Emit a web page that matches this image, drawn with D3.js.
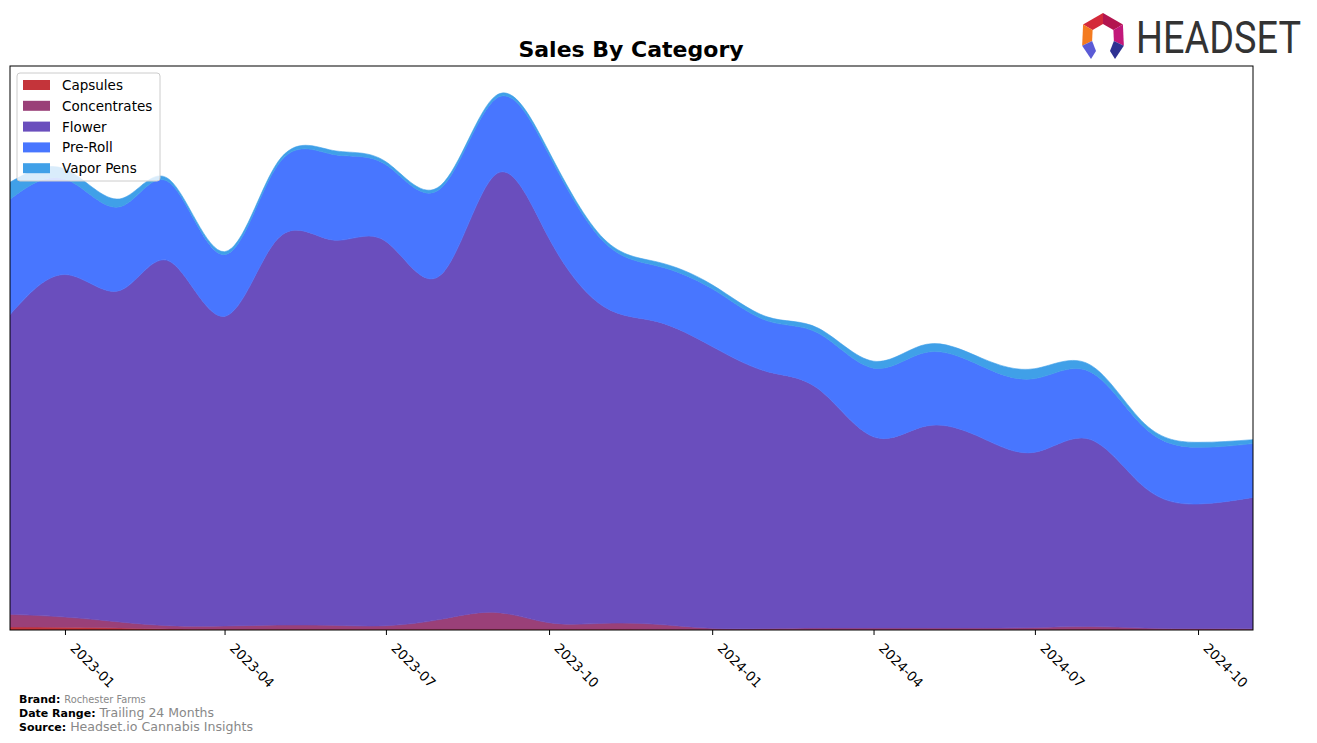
<!DOCTYPE html>
<html>
<head>
<meta charset="utf-8">
<script src="https://cdn.jsdelivr.net/npm/d3@7"></script>
<style>
  html, body { margin: 0; padding: 0; background: #fff; }
  svg { display: block; font-family: "DejaVu Sans", sans-serif; }
</style>
</head>
<body>
<svg id="chart" width="1317" height="743"></svg>
<script>
// ---- Data (monthly; arbitrary sales units) ----
const months = ["2022-12","2023-01","2023-02","2023-03","2023-04","2023-05","2023-06","2023-07",
  "2023-08","2023-09","2023-10","2023-11","2023-12","2024-01","2024-02","2024-03","2024-04",
  "2024-05","2024-06","2024-07","2024-08","2024-09","2024-10","2024-11"];
const categories = ["Capsules","Concentrates","Flower","Pre-Roll","Vapor Pens"];
const capsules = [3.0,2.7,2.0,1.0,0.8,0.8,0.8,0.8,0.8,0.8,0.8,0.8,0.6,0.5,0.5,0.5,0.5,0.5,0.5,0.5,0.5,0.5,0.4,0.4];
const concentrates = [12.7,10.3,6.0,3.3,3.2,4.2,3.9,3.5,9.9,16.9,6.5,5.9,5.1,1.2,1.0,1.5,1.5,1.5,1.5,2.0,3.0,1.5,1.1,0.8];
const flower = [301,344,333,366,311,388,387,386,346,440,386,318,304,283,258,240,192,203,191,176,188,141,125,132];
const preRoll = [116,96,84,79,62,74,86,77,87,76,84,65,56,58,51,56,69,74,72,74,68,60,57,54];
const vaporPens = [17,10,8,3,3,3,4,3,3,3,3,3,4,4,4,5,7,8,8,10,7,4,5,4];
const tickLabels = ["2023-01","2023-04","2023-07","2023-10","2024-01","2024-04","2024-07","2024-10"];
const colors = ["#c4343a","#9a4078","#6a4ebd","#4876ff","#40a0e8"];

const seriesValues = [capsules, concentrates, flower, preRoll, vaporPens];
const parse = d3.timeParse("%Y-%m");
const rows = months.map((m, i) => {
  const r = { date: parse(m) };
  categories.forEach((c, k) => r[c] = seriesValues[k][i]);
  return r;
});

const svg = d3.select("#chart");
const pLeft = 10, pRight = 1253, pTop = 66, pBottom = 630;

const stack = d3.stack().keys(categories);
const layers = stack(rows);
const maxTotal = d3.max(layers[layers.length - 1], d => d[1]);

const x = d3.scaleTime().domain([rows[0].date, rows[rows.length - 1].date]).range([pLeft, pRight]);
const y = d3.scaleLinear().domain([0, maxTotal]).range([pBottom, pTop]);

// measure the peak of the smoothed top curve so the y-limit is 5% above it
const probe = svg.append("path")
  .attr("d", d3.line().curve(d3.curveNatural).x(d => x(d.data.date)).y(d => y(d[1]))(layers[layers.length - 1]))
  .attr("fill", "none").attr("stroke", "none");
const peak = y.invert(probe.node().getBBox().y);
probe.remove();
y.domain([0, peak * 1.05]);

const clip = svg.append("defs").append("clipPath").attr("id", "plotclip");
clip.append("rect").attr("x", pLeft).attr("y", pTop).attr("width", pRight - pLeft).attr("height", pBottom - pTop);

const area = d3.area()
  .curve(d3.curveNatural)
  .x(d => x(d.data.date))
  .y0(d => y(d[0]))
  .y1(d => y(d[1]));

svg.append("g").attr("clip-path", "url(#plotclip)")
  .selectAll("path").data(layers).join("path")
  .attr("d", area)
  .attr("fill", (d, i) => colors[i])
  .attr("stroke", (d, i) => colors[i])
  .attr("stroke-width", 0.6);

// frame
svg.append("rect").attr("x", pLeft).attr("y", pTop).attr("width", pRight - pLeft).attr("height", pBottom - pTop)
  .attr("fill", "none").attr("stroke", "#000").attr("stroke-width", 1);

// x axis
const tickDates = tickLabels.map(parse);
const xg = svg.append("g").attr("transform", `translate(0,${pBottom})`);
const axis = d3.axisBottom(x).tickValues(tickDates).tickFormat((d, i) => tickLabels[i]).tickSize(5).tickSizeOuter(0);
xg.call(axis);
xg.select(".domain").remove();
xg.selectAll(".tick line").attr("stroke", "#000").attr("stroke-width", 1);
xg.selectAll(".tick text")
  .attr("font-size", "13.4px")
  .attr("font-family", "DejaVu Sans, sans-serif")
  .attr("fill", "#000")
  .attr("text-anchor", "start")
  .attr("dy", null)
  .attr("y", 0)
  .attr("transform", "translate(4,19) rotate(45)");

// title
svg.append("text").attr("x", 631).attr("y", 57).attr("text-anchor", "middle")
  .attr("font-size", "22px").attr("font-weight", "bold").attr("fill", "#000")
  .text("Sales By Category");

// legend
const lg = svg.append("g").attr("transform", "translate(17,73)");
lg.append("rect").attr("width", 143).attr("height", 108).attr("rx", 3)
  .attr("fill", "#fff").attr("fill-opacity", 0.8).attr("stroke", "#cccccc").attr("stroke-width", 1);
categories.forEach((c, i) => {
  const gy = 12 + i * 20.8;
  lg.append("rect").attr("x", 6).attr("y", gy - 5).attr("width", 27).attr("height", 10).attr("fill", colors[i]);
  lg.append("text").attr("x", 45).attr("y", gy + 5).attr("font-size", "13.5px").attr("fill", "#000").text(c);
});

// footer
const foot = [
  ["Brand:", "Rochester Farms", 703, 9.8],
  ["Date Range:", "Trailing 24 Months", 717, 12.5],
  ["Source:", "Headset.io Cannabis Insights", 731, 12.6]
];
foot.forEach(([lab, val, yy, vs]) => {
  const t = svg.append("text").attr("x", 19).attr("y", yy).attr("font-size", "11px");
  t.append("tspan").attr("font-weight", "bold").attr("fill", "#000").text(lab);
  t.append("tspan").attr("dx", 4).attr("fill", "#888").attr("font-size", vs + "px").text(val);
});

// logo
const logo = svg.append("g");
const cx = 1103, cy = 36, ro = 23, ri = 12;
const pt = (a, r) => [cx + r * Math.cos(a * Math.PI / 180), cy + r * Math.sin(a * Math.PI / 180)];
const segs = [
  [-150, -90, "#d42a3a"],
  [-90, -30, "#b3154f"],
  [-30, 25, "#c2187a"],
  [155, 210, "#f47b20"]
];
segs.forEach(([a0, a1, c]) => {
  const p = [pt(a0, ro), pt(a1, ro), pt(a1, ri), pt(a0, ri)];
  logo.append("polygon").attr("points", p.map(q => q.join(",")).join(" ")).attr("fill", c);
});
const legR = [pt(25, ro), pt(25, ri), [cx + 7, cy + 15], [cx + 12, cy + 23]];
const legL = [pt(155, ro), pt(155, ri), [cx - 7, cy + 15], [cx - 12, cy + 23]];
logo.append("polygon").attr("points", legR.map(q => q.join(",")).join(" ")).attr("fill", "#2e3192");
logo.append("polygon").attr("points", legL.map(q => q.join(",")).join(" ")).attr("fill", "#5b5bd6");
const logoText = logo.append("text").attr("x", 0).attr("y", 0).attr("font-size", "45px")
  .attr("font-family", "Roboto, sans-serif").attr("fill", "#333").text("HEADSET");
const natW = logoText.node().getComputedTextLength();
logoText.attr("transform", `translate(1136,53) scale(${165 / natW},1)`);
</script>
</body>
</html>
